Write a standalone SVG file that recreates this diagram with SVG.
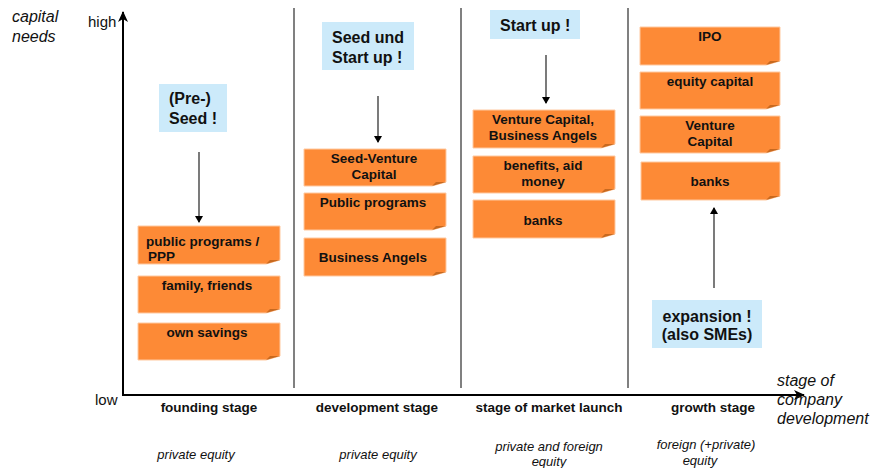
<svg xmlns="http://www.w3.org/2000/svg" width="872" height="468" viewBox="0 0 872 468">
  <style>
    text { font-family: "Liberation Sans", Arial, sans-serif; fill: #111; }
    .ax { font-size: 15px; }
    .axi { font-size: 16px; font-style: italic; }
    .stage { font-size: 13.5px; font-weight: bold; text-anchor: middle; }
    .eq { font-size: 13px; font-style: italic; text-anchor: middle; }
    .bt { font-size: 13.5px; font-weight: bold; text-anchor: middle; }
    .bl { font-size: 13.5px; font-weight: bold; text-anchor: start; }
    .ct { font-size: 16px; font-weight: bold; }
    .card { fill: #FD8A36; stroke: #FFC9A0; stroke-width: 1; }
    .fold { fill: #C8691F; }
    .call { fill: #CCEAFA; }
    .sep { stroke: #808080; stroke-width: 2; }
    .axis { stroke: #000; stroke-width: 2; fill: none; }
    .link { stroke: #333; stroke-width: 1.3; fill: none; marker-end: url(#ah); }
  </style>
  <defs>
    <marker id="ah" markerWidth="8" markerHeight="8" refX="6" refY="4" orient="auto" markerUnits="userSpaceOnUse">
      <path d="M0,0 L7,4 L0,8 z" fill="#000"/>
    </marker>
    <marker id="axh" markerWidth="12" markerHeight="10" refX="10" refY="5" orient="auto" markerUnits="userSpaceOnUse">
      <path d="M0,0 L11,5 L0,10 L3,5 z" fill="#000"/>
    </marker>
  </defs>

  <!-- axes and stage separators -->
  <g id="axes">
    <line class="sep" x1="294" y1="8" x2="294" y2="388"/>
    <line class="sep" x1="461" y1="8" x2="461" y2="388"/>
    <line class="sep" x1="628" y1="8" x2="628" y2="388"/>
    <path class="axis" d="M123,396 L123,12" marker-end="url(#axh)"/>
    <path class="axis" d="M122,395 L804,395" marker-end="url(#axh)"/>
    <text class="axi" x="12" y="22">capital</text>
    <text class="axi" x="12" y="42">needs</text>
    <text class="ax" x="88" y="27">high</text>
    <text class="ax" x="95" y="405">low</text>
    <text class="axi" x="777" y="386">stage of</text>
    <text class="axi" x="777" y="405">company</text>
    <text class="axi" x="777" y="424">development</text>
  </g>

  <!-- stage names and equity type -->
  <g id="stage-labels">
    <text class="stage" x="209" y="412">founding stage</text>
    <text class="stage" x="377" y="412">development stage</text>
    <text class="stage" x="549" y="412">stage of market launch</text>
    <text class="stage" x="713" y="412">growth stage</text>
    <text class="eq" x="196" y="459">private equity</text>
    <text class="eq" x="378" y="459">private equity</text>
    <text class="eq" x="549" y="451">private and foreign</text>
    <text class="eq" x="549" y="466">equity</text>
    <text class="eq" x="706" y="449">foreign (+private)</text>
    <text class="eq" x="700" y="465">equity</text>
  </g>

  <!-- callouts -->
  <g id="callout-preseed">
    <rect class="call" x="159" y="84" width="68" height="48"/>
    <text class="ct" x="169" y="104">(Pre-)</text>
    <text class="ct" x="169" y="124">Seed !</text>
  </g>
  <g id="callout-seed-startup">
    <rect class="call" x="322" y="22" width="92" height="48"/>
    <text class="ct" x="332" y="43">Seed und</text>
    <text class="ct" x="332" y="63">Start up !</text>
  </g>
  <g id="callout-startup">
    <rect class="call" x="490" y="10" width="90" height="29"/>
    <text class="ct" x="500" y="31">Start up !</text>
  </g>
  <g id="callout-expansion">
    <rect class="call" x="652" y="300" width="110" height="48"/>
    <text class="ct" x="707" y="322" text-anchor="middle">expansion !</text>
    <text class="ct" x="707" y="340" text-anchor="middle">(also SMEs)</text>
  </g>

  <!-- connectors -->
  <g id="connectors">
    <path class="link" d="M199,152 L199,222"/>
    <path class="link" d="M378,96 L378,142"/>
    <path class="link" d="M546,55 L546,103"/>
    <path class="link" d="M714,288 L714,208"/>
  </g>

  <!-- founding stage sources -->
  <g id="f-public">
    <path class="card" d="M138,226 H280 V260 L266,264 H138 Z"/>
    <path class="fold" d="M266,264 L270,260 H280 Z"/>
    <text class="bl" x="146" y="246">public programs /</text>
    <text class="bl" x="148" y="261">PPP</text>
  </g>
  <g id="f-family">
    <path class="card" d="M138,276 H280 V309 L266,313 H138 Z"/>
    <path class="fold" d="M266,313 L270,309 H280 Z"/>
    <text class="bt" x="207" y="290">family, friends</text>
  </g>
  <g id="f-savings">
    <path class="card" d="M138,323 H280 V356 L266,360 H138 Z"/>
    <path class="fold" d="M266,360 L270,356 H280 Z"/>
    <text class="bt" x="207" y="337">own savings</text>
  </g>

  <!-- development stage sources -->
  <g id="d-seedvc">
    <path class="card" d="M304,149 H446 V182 L432,186 H304 Z"/>
    <path class="fold" d="M432,186 L436,182 H446 Z"/>
    <text class="bt" x="374" y="163">Seed-Venture</text>
    <text class="bt" x="374" y="179">Capital</text>
  </g>
  <g id="d-public">
    <path class="card" d="M304,193 H446 V226 L432,230 H304 Z"/>
    <path class="fold" d="M432,230 L436,226 H446 Z"/>
    <text class="bt" x="373" y="207">Public programs</text>
  </g>
  <g id="d-angels">
    <path class="card" d="M304,238 H446 V272 L432,276 H304 Z"/>
    <path class="fold" d="M432,276 L436,272 H446 Z"/>
    <text class="bt" x="373" y="262">Business Angels</text>
  </g>

  <!-- market launch sources -->
  <g id="l-vc">
    <path class="card" d="M473,110 H615 V144 L601,148 H473 Z"/>
    <path class="fold" d="M601,148 L605,144 H615 Z"/>
    <text class="bt" x="543" y="124">Venture Capital,</text>
    <text class="bt" x="543" y="140">Business Angels</text>
  </g>
  <g id="l-benefits">
    <path class="card" d="M473,156 H615 V189 L601,193 H473 Z"/>
    <path class="fold" d="M601,193 L605,189 H615 Z"/>
    <text class="bt" x="543" y="170">benefits, aid</text>
    <text class="bt" x="543" y="186">money</text>
  </g>
  <g id="l-banks">
    <path class="card" d="M473,200 H615 V234 L601,238 H473 Z"/>
    <path class="fold" d="M601,238 L605,234 H615 Z"/>
    <text class="bt" x="543" y="225">banks</text>
  </g>

  <!-- growth stage sources -->
  <g id="g-ipo">
    <path class="card" d="M640,27 H780 V61 L766,65 H640 Z"/>
    <path class="fold" d="M766,65 L770,61 H780 Z"/>
    <text class="bt" x="710" y="41">IPO</text>
  </g>
  <g id="g-equity">
    <path class="card" d="M640,72 H780 V105 L766,109 H640 Z"/>
    <path class="fold" d="M766,109 L770,105 H780 Z"/>
    <text class="bt" x="710" y="86">equity capital</text>
  </g>
  <g id="g-vc">
    <path class="card" d="M640,116 H780 V149 L766,153 H640 Z"/>
    <path class="fold" d="M766,153 L770,149 H780 Z"/>
    <text class="bt" x="710" y="130">Venture</text>
    <text class="bt" x="710" y="146">Capital</text>
  </g>
  <g id="g-banks">
    <path class="card" d="M641,162 H780 V196 L766,200 H641 Z"/>
    <path class="fold" d="M766,200 L770,196 H780 Z"/>
    <text class="bt" x="710" y="186">banks</text>
  </g>
</svg>
